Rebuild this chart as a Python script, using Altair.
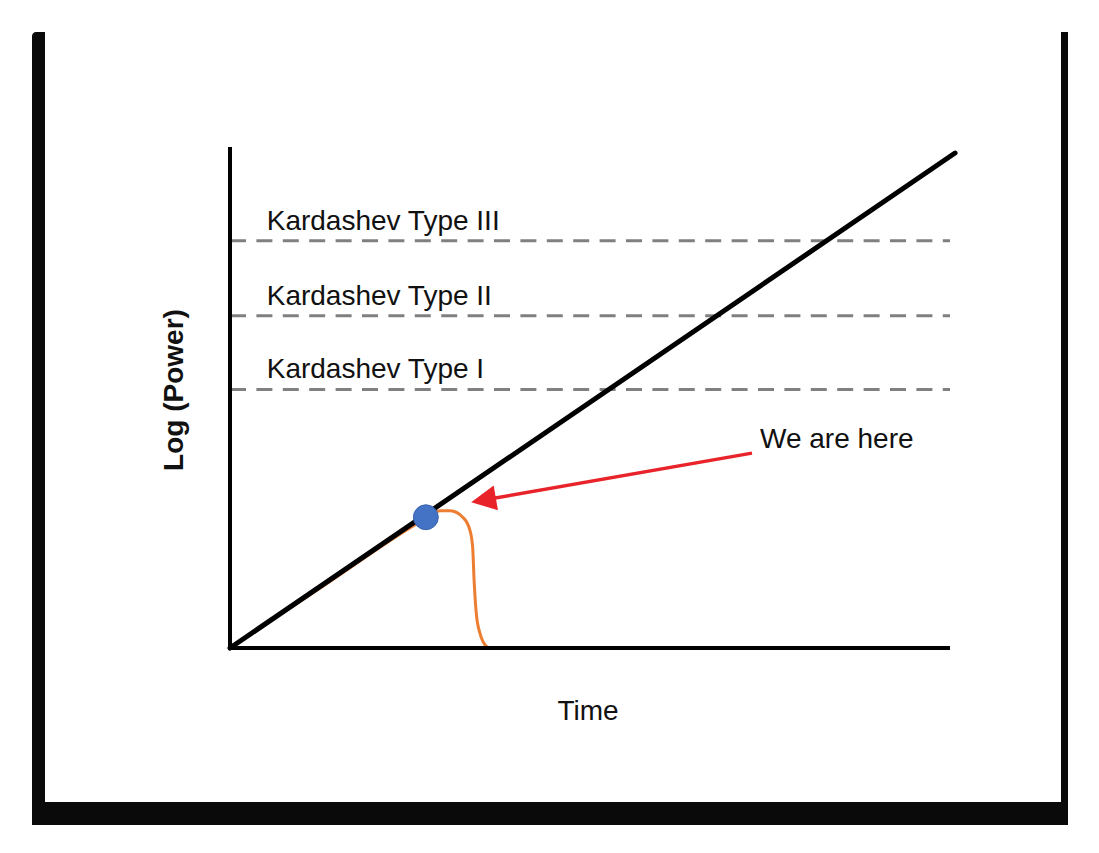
import math

import altair as alt
import pandas as pd

# ---- values (time and log-power in arbitrary units) ----
growth_time = [0.0, 10.07]
growth_power = [0.0, 9.88]

collapse_time = [0.0, 1.31, 2.62, 2.92, 3.06, 3.24, 3.33, 3.37, 3.39, 3.42, 3.47, 3.57, 3.60]
collapse_power = [0.0, 1.25, 2.50, 2.74, 2.74, 2.60, 2.36, 2.02, 1.36, 0.70, 0.30, 0.02, 0.0]

level_names = ["Kardashev Type I", "Kardashev Type II", "Kardashev Type III"]
level_power = [5.16, 6.63, 8.13]
level_start = 0.0
level_end = 10.0
label_time = 0.51

now_time = [2.72]
now_power = [2.61]

arrow_from = (7.25, 3.89)
arrow_to = (3.35, 2.91)
arrow_text = "We are here"

x_title = "Time"
y_title = "Log (Power)"

axis_time = [0.0, 0.0, 10.0]
axis_power = [10.0, 0.0, 0.0]

# ---- plot-area geometry ----
W, H = 720, 501
T_MAX, P_MAX = 10, 10
FONT = "Liberation Sans"
RED = "#E8232A"

x_scale = alt.Scale(domain=[0, T_MAX], nice=False)
y_scale = alt.Scale(domain=[0, P_MAX], nice=False)


def X(field):
    return alt.X(field, type="quantitative", scale=x_scale, axis=None)


def Y(field):
    return alt.Y(field, type="quantitative", scale=y_scale, axis=None)


# arrow head orientation and the point where the shaft meets the head
px_t, px_p = W / T_MAX, H / P_MAX
dx = (arrow_from[0] - arrow_to[0]) * px_t
dy = -(arrow_from[1] - arrow_to[1]) * px_p
length = math.hypot(dx, dy)
head_angle = math.degrees(math.atan2(dy, dx)) % 360
shaft_end = (
    arrow_to[0] + dx / length * 20 / px_t,
    arrow_to[1] - dy / length * 20 / px_p,
)

growth_df = pd.DataFrame({"t": growth_time, "p": growth_power})
collapse_df = pd.DataFrame({"t": collapse_time, "p": collapse_power})
levels_df = pd.DataFrame(
    {"name": level_names, "p": level_power, "start": level_start, "end": level_end, "lt": label_time}
)
now_df = pd.DataFrame({"t": now_time, "p": now_power})
arrow_df = pd.DataFrame(
    {"t": [arrow_from[0]], "p": [arrow_from[1]], "t2": [shaft_end[0]], "p2": [shaft_end[1]],
     "tt": [arrow_to[0]], "pt": [arrow_to[1]], "label": [arrow_text]}
)
axis_df = pd.DataFrame({"t": axis_time, "p": axis_power, "i": [0, 1, 2]})

# ---- frame around the figure ----
frame_df = pd.DataFrame({"k": [0]})
frame_left = alt.Chart(frame_df).mark_rect(color="#0a0a0a", cornerRadiusTopLeft=4).encode(
    x=alt.value(-198), x2=alt.value(-185), y=alt.value(-115), y2=alt.value(678)
)
frame_right = alt.Chart(frame_df).mark_rect(color="#0a0a0a").encode(
    x=alt.value(831), x2=alt.value(838), y=alt.value(-115), y2=alt.value(678)
)
frame_bottom = alt.Chart(frame_df).mark_rect(color="#0a0a0a").encode(
    x=alt.value(-198), x2=alt.value(838), y=alt.value(655), y2=alt.value(678)
)

# ---- data layers ----
levels = alt.Chart(levels_df).mark_rule(
    color="#808080", strokeWidth=3, strokeDash=[16, 10.4]
).encode(x=X("start"), x2="end:Q", y=Y("p"))

level_labels = alt.Chart(levels_df).mark_text(
    align="left", baseline="alphabetic", dy=-11, fontSize=28, font=FONT, color="#111111"
).encode(x=X("lt"), y=Y("p"), text="name:N")

collapse = alt.Chart(collapse_df).mark_line(
    color="#ED7D31", strokeWidth=3, interpolate="monotone"
).encode(x=X("t"), y=Y("p"))

growth = alt.Chart(growth_df).mark_line(
    color="black", strokeWidth=5, strokeCap="round"
).encode(x=X("t"), y=Y("p"))

axes = alt.Chart(axis_df).mark_line(
    color="black", strokeWidth=4, strokeJoin="miter"
).encode(x=X("t"), y=Y("p"), order="i:Q")

now = alt.Chart(now_df).mark_circle(
    size=620, fill="#4472C4", stroke="#3A63AD", strokeWidth=1, opacity=1
).encode(x=X("t"), y=Y("p"))

arrow_shaft = alt.Chart(arrow_df).mark_rule(color=RED, strokeWidth=3.5).encode(
    x=X("t"), y=Y("p"), x2="t2:Q", y2="p2:Q"
)
arrow_head = alt.Chart(arrow_df).mark_point(
    shape="M0,0L2,-1L2,1Z", size=625, filled=True, color=RED, opacity=1,
    strokeWidth=0, angle=head_angle
).encode(x=X("tt"), y=Y("pt"))
arrow_label = alt.Chart(arrow_df).mark_text(
    align="left", baseline="alphabetic", dx=8, dy=-5, fontSize=28, font=FONT, color="#111111"
).encode(x=X("t"), y=Y("p"), text="label:N")

# ---- axis titles ----
x_label = alt.Chart(pd.DataFrame({"label": [x_title]})).mark_text(
    align="center", baseline="alphabetic", fontSize=28, font=FONT, color="#111111"
).encode(x=alt.value(358), y=alt.value(573), text="label:N")
y_label = alt.Chart(pd.DataFrame({"label": [y_title]})).mark_text(
    align="center", baseline="alphabetic", angle=270, fontSize=28, fontWeight="bold",
    font=FONT, color="#111111"
).encode(x=alt.value(-47), y=alt.value(243), text="label:N")

chart = alt.layer(
    frame_left, frame_right, frame_bottom,
    levels, level_labels, collapse, growth, axes, now,
    arrow_shaft, arrow_head, arrow_label, x_label, y_label,
).properties(
    width=W,
    height=H,
    padding={"left": 230, "top": 147, "right": 149, "bottom": 205},
    autosize=alt.AutoSizeParams(type="none"),
    background="white",
).configure_view(stroke=None)

chart.save("out.html", embed_options={"renderer": "svg", "actions": False})
